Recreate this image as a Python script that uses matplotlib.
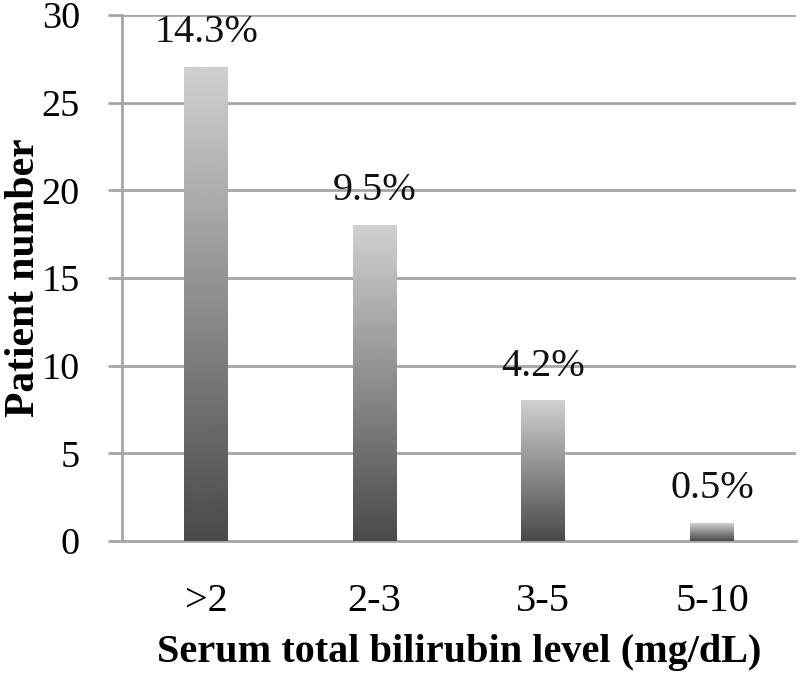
import numpy as np
import matplotlib.pyplot as plt

categories = ['>2', '2-3', '3-5', '5-10']
patients = [27, 18, 8, 1]
percent_labels = ['14.3%', '9.5%', '4.2%', '0.5%']

plt.rcParams['font.family'] = ['Liberation Serif', 'DejaVu Serif']

fig = plt.figure(figsize=(8, 6.75), dpi=100)
ax = fig.add_axes([0.152, 0.1985, 0.8436, 0.7793])

grid_col = '#a6a6a6'
bars = ax.bar(range(len(categories)), patients, width=0.26, color='none', zorder=3)

# vertical gradient, light at the top and dark at the bottom of each bar
grad = np.linspace(0, 1, 256).reshape(-1, 1)
for b in bars:
    x0, w, h = b.get_x(), b.get_width(), b.get_height()
    ax.imshow(grad, extent=(x0, x0 + w, 0, h), origin='lower', aspect='auto',
              cmap='gray', vmin=-0.55, vmax=1.35, zorder=3)

for b, lab in zip(bars, percent_labels):
    ax.annotate(lab, (b.get_x() + b.get_width() / 2, b.get_height()),
                xytext=(0, 25), textcoords='offset points',
                ha='center', va='center', fontsize=29, color='#111111', zorder=4)

ax.set_xlim(-0.5, len(categories) - 0.5)
ax.set_ylim(0, 30)
ax.set_yticks(range(0, 31, 5))
ax.set_xticks(range(len(categories)))
ax.set_xticklabels(categories)

ax.yaxis.grid(True, color=grid_col, linewidth=2)
ax.set_axisbelow(True)
for s in ['top', 'right']:
    ax.spines[s].set_visible(False)
for s in ['left', 'bottom']:
    ax.spines[s].set_color(grid_col)
    ax.spines[s].set_linewidth(2)

ax.tick_params(axis='y', direction='out', length=10, width=2, color=grid_col,
               labelsize=27.5, pad=20)
ax.tick_params(axis='x', length=0, labelsize=29, pad=30)

ax.set_ylabel('Patient number', fontsize=30, fontweight='bold')
ax.yaxis.set_label_coords(-0.117, 0.5)
ax.set_xlabel('Serum total bilirubin level (mg/dL)', fontsize=29,
              fontweight='bold', labelpad=10)

fig.savefig('out.png', dpi=100)
